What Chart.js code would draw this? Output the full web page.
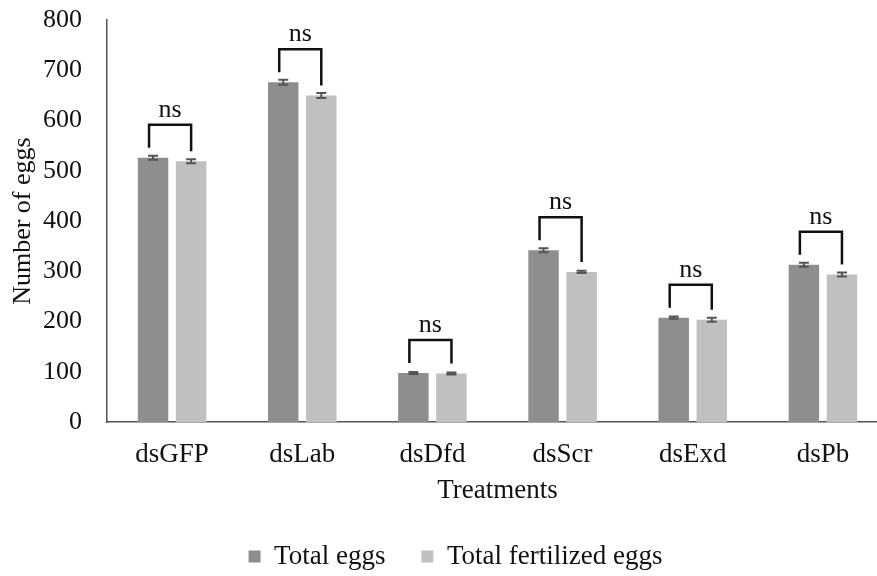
<!DOCTYPE html>
<html>
<head>
<meta charset="utf-8">
<script src="https://cdn.jsdelivr.net/npm/chart.js@4/dist/chart.umd.min.js"></script>
<style>
  html, body { margin: 0; padding: 0; background: #fff; }
  #wrap { width: 877px; height: 576px; }
</style>
</head>
<body>
<div id="wrap"><canvas id="eggChart" width="877" height="576"></canvas></div>
<script>
// data
const treatments = ["dsGFP", "dsLab", "dsDfd", "dsScr", "dsExd", "dsPb"];
const totalEggs = [526, 676, 98, 342, 208, 313];
const totalEggsErr = [4, 5, 2, 4, 2, 4];
const fertilizedEggs = [519, 650, 97, 299, 204, 294];
const fertilizedEggsErr = [4, 5, 2, 2, 4, 4];
const sigLabels = ["ns", "ns", "ns", "ns", "ns", "ns"];
const yTicks = [0, 100, 200, 300, 400, 500, 600, 700, 800];

const serif = "'Liberation Serif', 'Times New Roman', serif";

// the original x axis runs a bit past the right edge of the picture
const stretchX = {
  id: "stretchX",
  afterLayout(chart) {
    const extra = 11;
    const x = chart.scales.x;
    x.right += extra;
    x.width += extra;
    x.configure();
    chart.chartArea.right += extra;
    chart.chartArea.width += extra;
  }
};

// error bars + significance brackets
const annotations = {
  id: "annotations",
  afterDatasetsDraw(chart) {
    const ctx = chart.ctx;
    const y = chart.scales.y;
    const errs = [totalEggsErr, fertilizedEggsErr];
    ctx.save();

    // error bars
    ctx.strokeStyle = "#555";
    ctx.lineWidth = 2;
    chart.data.datasets.forEach((ds, di) => {
      const meta = chart.getDatasetMeta(di);
      meta.data.forEach((bar, i) => {
        const v = ds.data[i];
        const hi = y.getPixelForValue(v + errs[di][i]);
        const lo = y.getPixelForValue(v - errs[di][i]);
        ctx.beginPath();
        ctx.moveTo(bar.x, hi); ctx.lineTo(bar.x, lo);
        ctx.moveTo(bar.x - 5, hi); ctx.lineTo(bar.x + 5, hi);
        ctx.moveTo(bar.x - 5, lo); ctx.lineTo(bar.x + 5, lo);
        ctx.stroke();
      });
    });

    // brackets
    const m0 = chart.getDatasetMeta(0);
    const m1 = chart.getDatasetMeta(1);
    ctx.strokeStyle = "#111";
    ctx.lineWidth = 2.5;
    ctx.fillStyle = "#111";
    ctx.font = "26px " + serif;
    ctx.textAlign = "center";
    ctx.textBaseline = "alphabetic";
    treatments.forEach((t, i) => {
      const a = m0.data[i], b = m1.data[i];
      const topY = Math.min(a.y, b.y) - 33;
      ctx.beginPath();
      ctx.moveTo(a.x - 4, a.y - 10);
      ctx.lineTo(a.x - 4, topY);
      ctx.lineTo(b.x, topY);
      ctx.lineTo(b.x, b.y - 10);
      ctx.stroke();
      ctx.fillText(sigLabels[i], (a.x + b.x) / 2 - 2, topY - 8);
    });
    ctx.restore();
  }
};

new Chart(document.getElementById("eggChart"), {
  type: "bar",
  data: {
    labels: treatments,
    datasets: [
      {
        label: "Total eggs",
        data: totalEggs,
        backgroundColor: "#8e8e8e",
        categoryPercentage: 0.585,
        barPercentage: 0.8
      },
      {
        label: "Total fertilized eggs",
        data: fertilizedEggs,
        backgroundColor: "#c0c0c0",
        categoryPercentage: 0.585,
        barPercentage: 0.8
      }
    ]
  },
  options: {
    responsive: false,
    animation: false,
    layout: { padding: { left: 0, right: -34, top: 20, bottom: -4 } },
    plugins: {
      tooltip: { enabled: false },
      legend: {
        position: "bottom",
        labels: {
          color: "#111",
          font: { family: serif, size: 27 },
          boxWidth: 12,
          boxHeight: 12,
          padding: 36
        }
      }
    },
    scales: {
      x: {
        grid: { display: false, drawTicks: false },
        border: { display: true, color: "#555", width: 1.5 },
        ticks: { color: "#111", font: { family: serif, size: 27 }, padding: 17 },
        title: {
          display: true,
          text: "Treatments",
          color: "#111",
          font: { family: serif, size: 27 },
          padding: { top: -14, bottom: 0 }
        }
      },
      y: {
        min: 0,
        max: 800,
        afterBuildTicks(scale) {
          scale.ticks = yTicks.map(v => ({ value: v }));
        },
        afterFit(scale) {
          scale.width = 107;
          scale.paddingTop = 0;
          scale.paddingBottom = 0;
        },
        grid: { display: false, drawTicks: false },
        border: { display: true, color: "#555", width: 1.5 },
        ticks: { color: "#111", font: { family: serif, size: 26 }, padding: 25 },
        title: {
          display: true,
          text: "Number of eggs",
          color: "#111",
          font: { family: serif, size: 26 },
          padding: { top: 8, bottom: 0 }
        }
      }
    }
  },
  plugins: [stretchX, annotations]
});
</script>
</body>
</html>
